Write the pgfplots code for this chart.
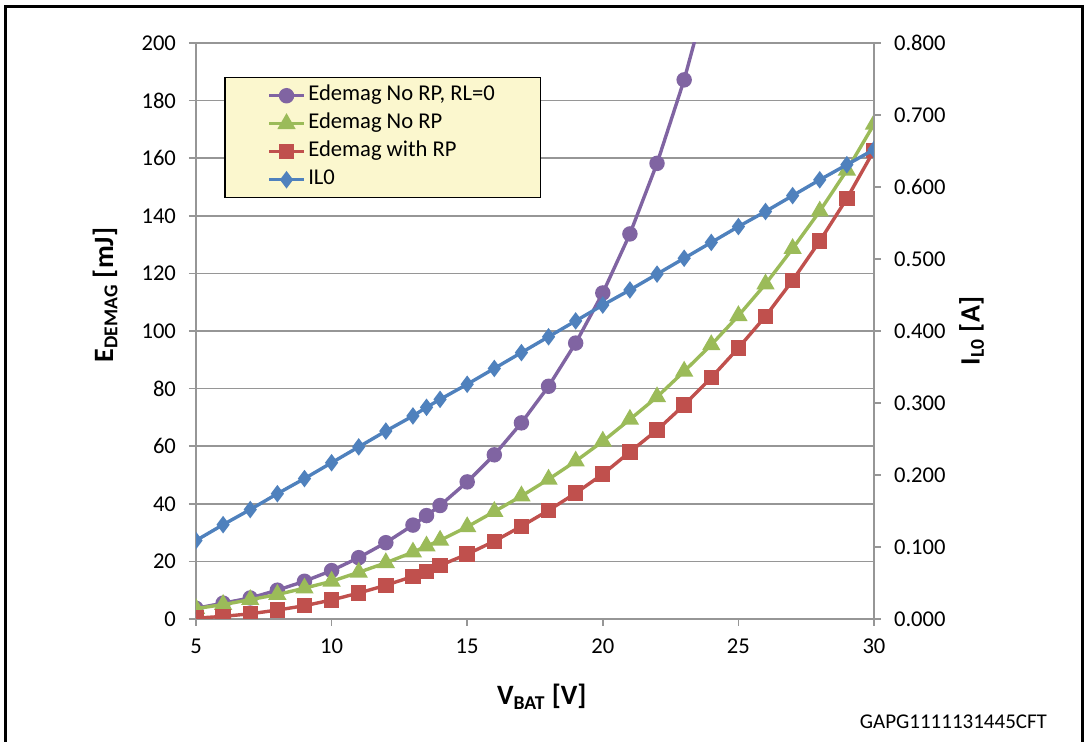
\documentclass[border=0pt]{standalone}
\usepackage{pgfplots}
\pgfplotsset{compat=1.18}
\usepackage{fontspec}
\setmainfont{Carlito}
\definecolor{cpurple}{RGB}{128,100,162}
\definecolor{cgreen}{RGB}{155,187,89}
\definecolor{cred}{RGB}{192,80,77}
\definecolor{cblue}{RGB}{79,129,189}
\definecolor{gridgray}{RGB}{150,150,150}
\definecolor{legfill}{RGB}{251,247,206}
\begin{document}
\begin{tikzpicture}
\useasboundingbox (0,0) rectangle (542pt,371pt);
\draw[line width=1.5pt] (2.8pt,-5pt) -- (2.8pt,367.5pt) -- (541pt,367.5pt) -- (541pt,-5pt);
\pgfplotsset{
  common/.style={
    at={(98pt,61.5pt)}, anchor=south west, scale only axis,
    width=339pt, height=288pt,
    xmin=5, xmax=30,
    tick align=outside, major tick length=3.5pt,
    axis line style={gridgray, line width=0.75pt},
    tick style={gridgray, line width=0.75pt},
    /pgf/number format/assume math mode=true,
    ticklabel style={font=\fontsize{11.3}{13}\selectfont},
    label style={font=\fontsize{14}{16}\selectfont\bfseries},
    clip marker paths=true,
  },
  every axis plot/.append style={line width=1.7pt},
}
\begin{axis}[common,
  ymin=0, ymax=200,
  xtick={5,10,15,20,25,30}, ytick={0,20,...,200},
  tick pos=left,
  ymajorgrids, grid style={gridgray, line width=0.75pt},
  xlabel={V\textsubscript{BAT} [V]},
  ylabel={E\textsubscript{DEMAG} [mJ]},
  xlabel style={at={(rel axis cs:0.51,-0.135)}, anchor=center},
  ylabel style={at={(rel axis cs:-0.134,0.5625)}, anchor=center},
  yticklabel style={xshift=-3pt},
  xticklabel style={yshift=-3pt},
  legend style={at={(rel axis cs:0.0413,0.941)}, anchor=north west,
    fill=legfill, draw=black, line width=0.75pt,
    font=\fontsize{11.3}{13}\selectfont,
    inner xsep=21.5pt, inner ysep=2pt, row sep=0pt,
    nodes={inner sep=1.5pt, text height=8pt, text depth=3pt},
    cells={anchor=west}},
  legend cell align=left,
]
\addplot[cpurple, mark=*, mark size=3pt, mark options={fill=cpurple}] coordinates {
(5,3.7) (6,5.5) (7,7.3) (8,10.0) (9,13.1) (10,16.8) (11,21.3) (12,26.5) (13,32.6) (13.5,35.9) (14,39.4) (15,47.6) (16,57.0) (17,68.1) (18,80.8) (19,95.8) (20,113.2) (21,133.7) (22,158.2) (23,187.2) (24,222.0)};
\addlegendentry{Edemag No RP, RL=0}
\addplot[cgreen, mark=triangle*, mark size=3.6pt, mark options={fill=cgreen}] coordinates {
(5,3.6) (6,5.0) (7,6.7) (8,8.5) (9,10.7) (10,13.1) (11,16.2) (12,19.5) (13,23.2) (13.5,25.3) (14,27.3) (15,32.0) (16,37.3) (17,42.7) (18,48.5) (19,54.8) (20,61.7) (21,69.3) (22,77.1) (23,86.0) (24,95.2) (25,105.3) (26,116.3) (27,128.6) (28,141.6) (29,155.8) (30,171.8)};
\addlegendentry{Edemag No RP}
\addplot[cred, mark=square*, mark size=3pt, mark options={fill=cred}] coordinates {
(5,0.3) (6,0.9) (7,1.8) (8,3.1) (9,4.6) (10,6.6) (11,9.0) (12,11.7) (13,14.8) (13.5,16.5) (14,18.6) (15,22.5) (16,27.0) (17,32.2) (18,37.7) (19,43.7) (20,50.3) (21,58.0) (22,65.6) (23,74.3) (24,83.8) (25,94.1) (26,105.1) (27,117.6) (28,131.2) (29,146.0) (30,162.7)};
\addlegendentry{Edemag with RP}
\addlegendimage{cblue, line width=1.7pt, mark=diamond*, mark size=3pt, mark options={fill=cblue}}
\addlegendentry{IL0}
\end{axis}
\begin{axis}[common,
  ymin=0, ymax=0.8,
  axis x line=none, axis y line*=right,
  ytick={0,0.1,0.2,0.3,0.4,0.5,0.6,0.7,0.8},
  yticklabel style={/pgf/number format/fixed, /pgf/number format/fixed zerofill, /pgf/number format/precision=3, xshift=3pt},
  ylabel={I\textsubscript{L0} [A]},
  ylabel style={at={(rel axis cs:1.144,0.5)}, anchor=center},
]
\addplot[cblue, mark=diamond*, mark size=3pt, mark options={fill=cblue}] coordinates {
(5,0.109) (6,0.131) (7,0.152) (8,0.174) (9,0.195) (10,0.217) (11,0.239) (12,0.261) (13,0.282) (13.5,0.294) (14,0.305) (15,0.326) (16,0.348) (17,0.370) (18,0.392) (19,0.414) (20,0.436) (21,0.457) (22,0.479) (23,0.501) (24,0.523) (25,0.545) (26,0.566) (27,0.588) (28,0.610) (29,0.631) (30,0.652)};
\end{axis}
\node[anchor=east, font=\fontsize{10.5}{12}\selectfont] at (527pt,10pt) {GAPG1111131445CFT};
\end{tikzpicture}
\end{document}
